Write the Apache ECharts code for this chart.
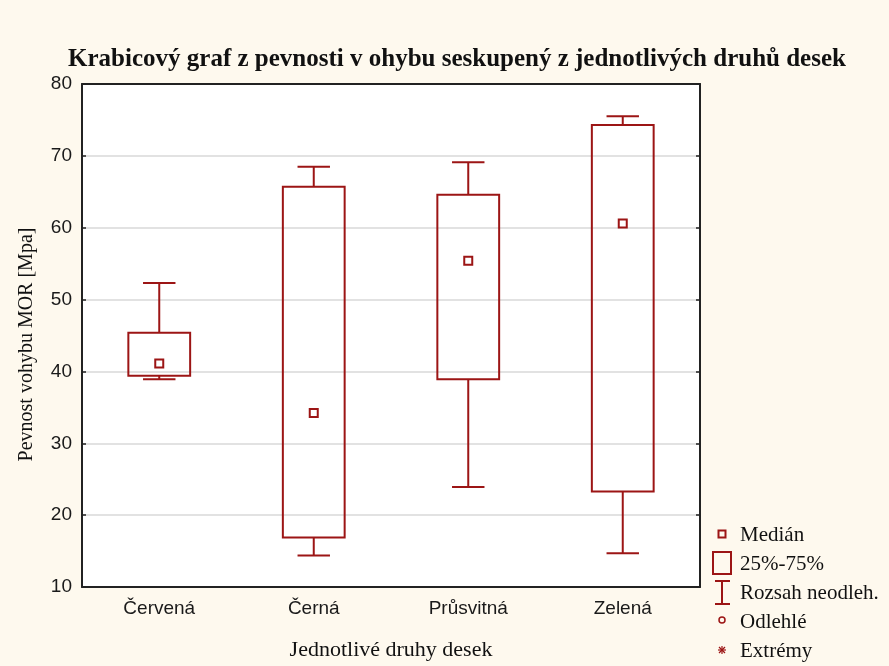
<!DOCTYPE html>
<html>
<head>
<meta charset="utf-8">
<script src="https://cdn.jsdelivr.net/npm/echarts@6/dist/echarts.min.js"></script>
<style>
html,body{margin:0;padding:0;background:#fef9ee;}
#c{width:889px;height:666px;}
</style>
</head>
<body>
<div id="c"></div>
<script>
var categories = ['Červená', 'Černá', 'Průsvitná', 'Zelená'];
var whiskerLow = [38.9, 14.4, 23.9, 14.7];
var q1 = [39.4, 16.9, 38.9, 23.3];
var median = [41.1, 34.2, 55.4, 60.6];
var q3 = [45.4, 65.7, 64.6, 74.3];
var whiskerHigh = [52.3, 68.5, 69.1, 75.5];
var yTicks = [10, 20, 30, 40, 50, 60, 70, 80];

var legendLabels = ['Medián', '25%-75%', 'Rozsah neodleh.', 'Odlehlé', 'Extrémy'];

var RED = '#9c1515';
var data = categories.map(function (c, i) {
  return [i, whiskerLow[i], q1[i], median[i], q3[i], whiskerHigh[i]];
});

function renderItem(params, api) {
  var i = api.value(0);
  var band = api.size([1, 0])[0];
  var pLow = api.coord([i, api.value(1)]);
  var pQ1 = api.coord([i, api.value(2)]);
  var pMed = api.coord([i, api.value(3)]);
  var pQ3 = api.coord([i, api.value(4)]);
  var pHigh = api.coord([i, api.value(5)]);
  var x = pMed[0];
  var bw = band * 0.40;
  var cw = band * 0.21;
  var st = { stroke: RED, lineWidth: 2, fill: null };
  return {
    type: 'group',
    children: [
      { type: 'line', shape: { x1: x, y1: pHigh[1], x2: x, y2: pQ3[1] }, style: st },
      { type: 'line', shape: { x1: x - cw / 2, y1: pHigh[1], x2: x + cw / 2, y2: pHigh[1] }, style: st },
      { type: 'line', shape: { x1: x, y1: pQ1[1], x2: x, y2: pLow[1] }, style: st },
      { type: 'line', shape: { x1: x - cw / 2, y1: pLow[1], x2: x + cw / 2, y2: pLow[1] }, style: st },
      { type: 'rect', shape: { x: x - bw / 2, y: pQ3[1], width: bw, height: pQ1[1] - pQ3[1] }, style: { stroke: RED, lineWidth: 2, fill: 'rgba(0,0,0,0)' } },
      { type: 'rect', shape: { x: x - 4, y: pMed[1] - 4, width: 8, height: 8 }, style: { stroke: RED, lineWidth: 2, fill: '#fff' } }
    ]
  };
}

var LX = 722;
var legendY = [534, 563, 592, 620, 650];
var graphics = [
  { type: 'rect', shape: { x: LX - 3.5, y: legendY[0] - 3.5, width: 7, height: 7 }, style: { stroke: RED, lineWidth: 2, fill: 'transparent' } },
  { type: 'rect', shape: { x: LX - 9, y: legendY[1] - 11, width: 18, height: 22 }, style: { stroke: RED, lineWidth: 2, fill: 'transparent' } },
  { type: 'line', shape: { x1: LX, y1: legendY[2] - 11, x2: LX, y2: legendY[2] + 12 }, style: { stroke: RED, lineWidth: 2 } },
  { type: 'line', shape: { x1: LX - 7, y1: legendY[2] - 11, x2: LX + 8, y2: legendY[2] - 11 }, style: { stroke: RED, lineWidth: 2 } },
  { type: 'line', shape: { x1: LX - 7, y1: legendY[2] + 12, x2: LX + 8, y2: legendY[2] + 12 }, style: { stroke: RED, lineWidth: 2 } },
  { type: 'circle', shape: { cx: LX, cy: legendY[3], r: 3 }, style: { stroke: RED, lineWidth: 1.5, fill: 'transparent' } },
  { type: 'line', shape: { x1: LX - 4, y1: legendY[4], x2: LX + 4, y2: legendY[4] }, style: { stroke: RED, lineWidth: 1.2 } },
  { type: 'line', shape: { x1: LX, y1: legendY[4] - 4, x2: LX, y2: legendY[4] + 4 }, style: { stroke: RED, lineWidth: 1.2 } },
  { type: 'line', shape: { x1: LX - 3, y1: legendY[4] - 3, x2: LX + 3, y2: legendY[4] + 3 }, style: { stroke: RED, lineWidth: 1.2 } },
  { type: 'line', shape: { x1: LX - 3, y1: legendY[4] + 3, x2: LX + 3, y2: legendY[4] - 3 }, style: { stroke: RED, lineWidth: 1.2 } }
];
legendLabels.forEach(function (t, k) {
  graphics.push({
    type: 'text', left: 740, top: legendY[k] - 9 + (k === 3 ? 1 : 0),
    style: { text: t, font: '21px "Liberation Serif", serif', fill: '#111' }
  });
});

var chart = echarts.init(document.getElementById('c'));
chart.setOption({
  backgroundColor: '#fef9ee',
  animation: false,
  title: {
    text: 'Krabicový graf z pevnosti v ohybu seskupený z jednotlivých druhů desek',
    left: 452, top: 42, textAlign: 'center',
    textStyle: { fontFamily: '"Liberation Serif", serif', fontWeight: 'bold', fontSize: 25, color: '#111' }
  },
  grid: { left: 82, right: 189, top: 84, bottom: 70, show: true, backgroundColor: '#fff', borderWidth: 0 },
  xAxis: [{
    type: 'category', data: categories, boundaryGap: true,
    name: 'Jednotlivé druhy desek', nameLocation: 'middle', nameGap: 52,
    nameTextStyle: { fontFamily: '"Liberation Serif", serif', fontSize: 22, color: '#111' },
    axisLine: { lineStyle: { color: '#222', width: 2 } },
    axisTick: { inside: true, alignWithLabel: true, length: 5, lineStyle: { color: '#222', width: 1.5 } },
    axisLabel: { margin: 12, fontFamily: '"Liberation Sans", Arial, sans-serif', fontSize: 19, color: '#1a1a1a' },
    splitLine: { show: false }
  }, {
    type: 'category', data: categories, position: 'top',
    axisLine: { lineStyle: { color: '#222', width: 2 } },
    axisTick: { show: false }, axisLabel: { show: false }
  }],
  yAxis: [{
    type: 'value', min: yTicks[0], max: yTicks[yTicks.length - 1], interval: 10,
    name: 'Pevnost vohybu MOR [Mpa]', nameLocation: 'middle', nameGap: 45, nameRotate: 90,
    nameTextStyle: { fontFamily: '"Liberation Serif", serif', fontSize: 20, color: '#111', padding: [0, 18, 0, 0] },
    axisLine: { show: true, lineStyle: { color: '#222', width: 2 } },
    axisTick: { show: true, inside: true, length: 4, lineStyle: { color: '#222', width: 1.5 } },
    axisLabel: { margin: 10, fontFamily: '"Liberation Sans", Arial, sans-serif', fontSize: 19, color: '#1a1a1a' },
    splitLine: { lineStyle: { color: '#d9d9d9', width: 1.5 } }
  }, {
    type: 'value', min: yTicks[0], max: yTicks[yTicks.length - 1], interval: 10, position: 'right',
    axisLine: { show: true, lineStyle: { color: '#222', width: 2 } },
    axisTick: { show: true, inside: true, length: 4, lineStyle: { color: '#222', width: 1.5 } },
    axisLabel: { show: false }, splitLine: { show: false }
  }],
  series: [{
    type: 'custom', renderItem: renderItem, data: data,
    encode: { x: 0, y: [1, 2, 3, 4, 5] }, z: 5
  }],
  graphic: graphics
});
</script>
</body>
</html>
